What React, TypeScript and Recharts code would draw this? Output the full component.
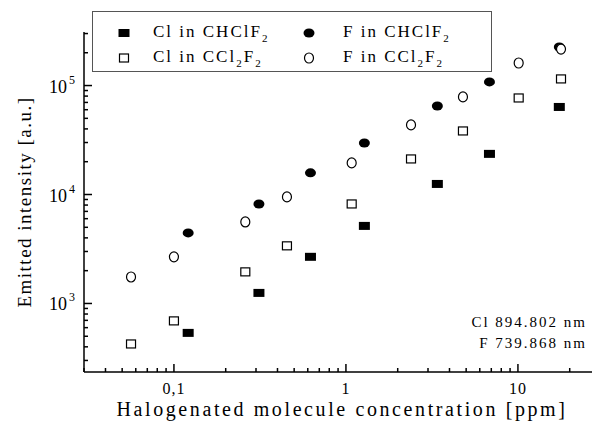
import React from "react";
import { ScatterChart, Scatter, XAxis, YAxis, Legend } from "recharts";

// concentrations [ppm] and emitted intensities [a.u.]
const concCHClF2 = [0.121, 0.312, 0.622, 1.28, 3.4, 6.83, 17.4];
const clInCHClF2 = [537, 1250, 2680, 5150, 12500, 23600, 63600];
const fInCHClF2 = [4440, 8190, 15800, 29700, 64900, 108000, 226000];

const concCCl2F2 = [0.0563, 0.1, 0.26, 0.454, 1.08, 2.39, 4.79, 10.1, 17.8];
const clInCCl2F2 = [425, 692, 1950, 3380, 8190, 21200, 38300, 76900, 115000];
const fInCCl2F2 = [1750, 2680, 5600, 9500, 19500, 43500, 78600, 161000, 216000];

const xTicks = [
  0.03, 0.04, 0.05, 0.06, 0.07, 0.08, 0.09,
  0.1, 0.2, 0.3, 0.4, 0.5, 0.6, 0.7, 0.8, 0.9,
  1, 2, 3, 4, 5, 6, 7, 8, 9,
  10, 20, 30,
];
const xTickLabels: Record<string, string> = { "0.1": "0,1", "1": "1", "10": "10" };

const yTicks = [
  300, 400, 500, 600, 700, 800, 900,
  1000, 2000, 3000, 4000, 5000, 6000, 7000, 8000, 9000,
  10000, 20000, 30000, 40000, 50000, 60000, 70000, 80000, 90000,
  100000, 200000, 300000,
];
const yTickExponents: Record<string, string> = { "1000": "3", "10000": "4", "100000": "5" };

const annotation = ["Cl 894.802 nm", "F 739.868 nm"];

const FONT = "'Liberation Serif', 'Times New Roman', serif";

const zip = (xs: number[], ys: number[]) => xs.map((x, i) => ({ x, y: ys[i] }));

const FilledSquare = ({ cx, cy }: any) => (
  <rect x={cx - 5.5} y={cy - 4} width={11} height={8} fill="#000" />
);
const OpenSquare = ({ cx, cy }: any) => (
  <rect x={cx - 4.5} y={cy - 4} width={9} height={8} fill="#fff" stroke="#000" strokeWidth={1.2} />
);
const FilledCircle = ({ cx, cy }: any) => <ellipse cx={cx} cy={cy} rx={5.5} ry={4.5} fill="#000" />;
const OpenCircle = ({ cx, cy }: any) => (
  <ellipse cx={cx} cy={cy} rx={4.5} ry={5} fill="#fff" stroke="#000" strokeWidth={1.2} />
);

const series = [
  { name: "Cl in CHClF2", data: zip(concCHClF2, clInCHClF2), shape: FilledSquare },
  { name: "F in CHClF2", data: zip(concCHClF2, fInCHClF2), shape: FilledCircle },
  { name: "Cl in CCl2F2", data: zip(concCCl2F2, clInCCl2F2), shape: OpenSquare },
  { name: "F in CCl2F2", data: zip(concCCl2F2, fInCCl2F2), shape: OpenCircle },
];

// digits in formulas become subscripts
const formula = (text: string) =>
  text.split(/(\d)/).map((part, i) =>
    /\d/.test(part) ? (
      <span key={i} style={{ fontSize: 11, position: "relative", top: 5 }}>{part}</span>
    ) : (
      <span key={i}>{part}</span>
    )
  );

const XTick = ({ x, y, payload, top }: any) => {
  const label = xTickLabels[String(payload.value)];
  const len = top ? (label ? 4 : 2) : label ? 8 : 4;
  return (
    <g>
      <line x1={x} x2={x} y1={y} y2={top ? y + len : y - len} stroke="#000" strokeWidth={1.5} />
      {!top && label && (
        <text x={x} y={y + 22} textAnchor="middle" fontSize={16} fontFamily={FONT} letterSpacing={1} fill="#000">
          {label}
        </text>
      )}
    </g>
  );
};

const YTick = ({ x, y, payload }: any) => {
  const exp = yTickExponents[String(payload.value)];
  const len = exp ? 8 : 4;
  return (
    <g>
      <line x1={x} x2={x + len} y1={y} y2={y} stroke="#000" strokeWidth={1.5} />
      {exp && (
        <text x={x - 9} y={y + 7} textAnchor="end" fontSize={18} fontFamily={FONT} fill="#000">
          <tspan>10</tspan>
          <tspan dx={2} dy={-9} fontSize={12}>{exp}</tspan>
        </text>
      )}
    </g>
  );
};

const renderLegend = () => (
  <div
    style={{
      width: 400,
      height: 61,
      boxSizing: "border-box",
      border: "1.5px solid #555",
      background: "#fff",
      display: "grid",
      gridTemplateColumns: "36px 149px 41px 1fr",
      gridAutoRows: "25px",
      paddingLeft: 24,
      paddingTop: 8,
      fontFamily: FONT,
      fontSize: 17,
      letterSpacing: 2,
      color: "#000",
      alignItems: "center",
    }}
  >
    {series.map((s) => {
      const Shape = s.shape;
      return (
        <React.Fragment key={s.name}>
          <svg width={14} height={12}>
            <Shape cx={7} cy={6} />
          </svg>
          <div style={{ whiteSpace: "nowrap", lineHeight: "25px" }}>{formula(s.name)}</div>
        </React.Fragment>
      );
    })}
  </div>
);

export default function App() {
  return (
    <div style={{ position: "absolute", left: 0, top: 0, width: 592, height: 423, overflow: "hidden", background: "#fff" }}>
      <ScatterChart width={610} height={423} margin={{ top: 32, right: 10, bottom: 0, left: 0 }}>
        <XAxis
          dataKey="x"
          type="number"
          scale="log"
          domain={[0.03, 30]}
          allowDataOverflow
          ticks={xTicks}
          interval={0}
          tickSize={0}
          tickMargin={0}
          tickLine={false}
          tick={(p: any) => <XTick {...p} />}
          axisLine={{ stroke: "#000", strokeWidth: 1.5 }}
          height={51}
          label={{
            value: "Halogenated molecule concentration [ppm]",
            position: "insideBottom",
            offset: 7,
            style: { fontFamily: FONT, fontSize: 20, letterSpacing: 2.6, fill: "#000" },
          }}
        />
        <XAxis
          xAxisId="top"
          orientation="top"
          type="number"
          scale="log"
          domain={[0.03, 30]}
          allowDataOverflow
          ticks={xTicks}
          interval={0}
          tickSize={0}
          tickMargin={0}
          tickLine={false}
          tick={(p: any) => <XTick {...p} top />}
          axisLine={{ stroke: "#000", strokeWidth: 1.5 }}
          height={0}
        />
        <YAxis
          dataKey="y"
          type="number"
          scale="log"
          domain={[235, 310000]}
          allowDataOverflow
          ticks={yTicks}
          interval={0}
          tickSize={0}
          tickMargin={0}
          tickLine={false}
          tick={(p: any) => <YTick {...p} />}
          axisLine={{ stroke: "#000", strokeWidth: 1.5 }}
          width={84}
          label={{
            content: ({ viewBox }: any) => {
              const cx = 24;
              const cy = viewBox.y + viewBox.height / 2;
              return (
                <text
                  x={cx}
                  y={cy}
                  transform={`rotate(-90 ${cx} ${cy})`}
                  textAnchor="middle"
                  dominantBaseline="central"
                  fontFamily={FONT}
                  fontSize={19}
                  letterSpacing={1.5}
                  fill="#000"
                >
                  Emitted intensity [a.u.]
                </text>
              );
            },
          }}
        />
        {series.map((s) => (
          <Scatter key={s.name} name={s.name} data={s.data} shape={s.shape} isAnimationActive={false} />
        ))}
        <Legend
          verticalAlign="middle"
          align="center"
          layout="horizontal"
          wrapperStyle={{ left: 92, top: 11, width: 400, height: 61 }}
          content={renderLegend}
        />
      </ScatterChart>
      {annotation.map((line, i) => (
        <div
          key={line}
          style={{
            position: "absolute",
            left: 0,
            width: 587,
            top: 312 + i * 21,
            textAlign: "right",
            fontFamily: FONT,
            fontSize: 15,
            lineHeight: "21px",
            letterSpacing: 2,
            whiteSpace: "nowrap",
          }}
        >
          {line}
        </div>
      ))}
    </div>
  );
}
